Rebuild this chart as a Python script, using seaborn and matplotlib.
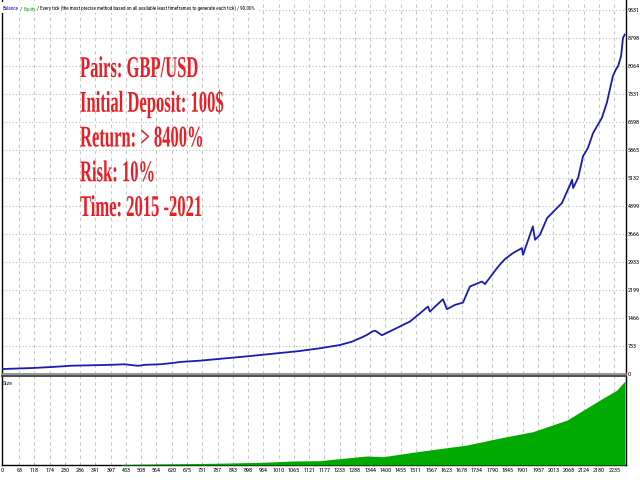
import matplotlib
matplotlib.use("Agg")
import numpy as np
import pandas as pd
import seaborn as sns
import matplotlib.pyplot as plt
import matplotlib.patheffects as pe
from matplotlib.transforms import Affine2D
from matplotlib.textpath import TextPath
from matplotlib.font_manager import FontProperties, fontManager
from matplotlib.patches import Rectangle

# ---------------- data ----------------
trade_no = [0, 113, 183, 256, 376, 449, 496, 522, 577, 624, 650, 723, 905, 1088,
            1161, 1234, 1278, 1314, 1332, 1351, 1362, 1387, 1489, 1519, 1555, 1562,
            1610, 1624, 1654, 1683, 1708, 1752, 1763, 1807, 1817, 1836, 1865, 1898,
            1902, 1938, 1946, 1964, 1990, 2026, 2044, 2074, 2081, 2085, 2103, 2121,
            2139, 2158, 2190, 2208, 2230, 2241, 2249, 2260, 2267, 2274]
balance = [130, 157, 184, 218, 236, 254, 215, 240, 254, 289, 315, 349, 470, 603,
           674, 760, 848, 960, 1023, 1110, 1136, 1015, 1372, 1548, 1766, 1634,
           1959, 1697, 1810, 1870, 2290, 2421, 2353, 2772, 2859, 3008, 3165, 3297,
           3121, 3864, 3515, 3646, 4084, 4346, 4477, 4957, 5089, 4870, 5133, 5700,
           5919, 6313, 6707, 7100, 7798, 7974, 8061, 8323, 8805, 8892]

size_trade_no = [0, 430, 438, 559, 778, 953, 1062, 1161, 1208, 1332, 1391, 1515,
                 1698, 1818, 1938, 2063, 2183, 2245, 2274]
size_lots = [0, 0, 0.05, 0.10, 0.17, 0.27, 0.40, 0.43, 0.57, 0.90, 0.83, 1.33,
             2.00, 2.70, 3.33, 4.50, 6.50, 7.50, 8.40]

x_tick_labels = [0, 63, 118, 174, 230, 286, 341, 397, 453, 508, 564, 620, 675, 731,
                 787, 843, 898, 954, 1010, 1065, 1121, 1177, 1233, 1288, 1344, 1400,
                 1455, 1511, 1567, 1623, 1678, 1734, 1790, 1845, 1901, 1957, 2013,
                 2068, 2124, 2180, 2235]
y_tick_labels = [0, 733, 1466, 2199, 2933, 3666, 4399, 5132, 5865, 6598, 7331,
                 8064, 8798, 9531]

info_lines = ["Pairs: GBP/USD", "Initial Deposit: 100$", "Return: > 8400%",
              "Risk: 10%", "Time: 2015 -2021"]
header_parts = [("Balance", "#1010c8"), (" / ", "#000000"), ("Equity", "#10b010"),
                (" / Every tick (the most precise method based on all available least "
                 "timeframes to generate each tick) / 90.00%", "#000000")]

# ---------------- style ----------------
sns.set_theme(style="white")
plt.rcParams["font.family"] = ["DejaVu Sans"]

W, H, DPI = 640, 480, 100

_names = {f.name for f in fontManager.ttflist}
SMALL_FAMILY = "DejaVu Sans"
for cand in ["Liberation Sans Narrow", "DejaVu Sans Condensed", "Roboto Condensed",
             "Open Sans Condensed", "Noto Sans Condensed"]:
    if cand in _names:
        SMALL_FAMILY = cand
        break


def width_px(s, family, size):
    fp = FontProperties(family=family, size=size)
    return TextPath((0, 0), s, prop=fp).get_extents().width * DPI / 72.0


# font sizes chosen so that text widths match the screenshot
TICK_FS = min(5.5, 5.0 * 11.5 / width_px("2235", SMALL_FAMILY, 5.0))
HDR_FS = min(5.5, 5.0 * 252.0 / width_px("".join(p for p, _ in header_parts),
                                          SMALL_FAMILY, 5.0))

SX = 0.55  # horizontal squeeze of the big red caption


class HScale(pe.AbstractPathEffect):
    """Draw text glyphs squeezed horizontally (text stays a Text artist)."""

    def __init__(self, sx):
        super().__init__()
        self.sx = sx

    def draw_path(self, renderer, gc, tpath, affine, rgbFace=None):
        renderer.draw_path(gc, tpath, Affine2D().scale(self.sx, 1) + affine, rgbFace)


fig = plt.figure(figsize=(W / DPI, H / DPI), dpi=DPI)
fig.patch.set_facecolor("white")

ax_top = fig.add_axes([2 / W, (H - 374) / H, 624 / W, 374 / H])
ax_bot = fig.add_axes([2 / W, (H - 465) / H, 624 / W, 89 / H], sharex=ax_top)

df = pd.DataFrame({"trade": trade_no, "balance": balance})
sns.lineplot(data=df, x="trade", y="balance", ax=ax_top, color="#1c1cb0",
             linewidth=1.3, zorder=3)

ax_bot.fill_between(size_trade_no, size_lots, 0, color="#00aa00", linewidth=0,
                    zorder=3)

ax_top.set_xlim(0, 2278)
ax_top.set_ylim(0, 9793)
ax_bot.set_ylim(0, 8.9)

for ax in (ax_top, ax_bot):
    ax.set_facecolor("white")
    ax.set_axisbelow(True)
    ax.set_xlabel("")
    ax.set_ylabel("")
    ax.grid(axis="x", color="#c8c8c8", linestyle=(0, (3, 3)), linewidth=0.8)
    for side in ("left", "right", "bottom", "top"):
        ax.spines[side].set_visible(True)
        ax.spines[side].set_color("black")
        ax.spines[side].set_linewidth(1.0)

ax_top.spines["top"].set_visible(False)
ax_top.spines["bottom"].set_color("#8c8c8c")
ax_top.spines["bottom"].set_linewidth(1.3)
ax_bot.spines["top"].set_color("#404040")
ax_bot.spines["top"].set_linewidth(1.3)

ax_top.set_yticks(y_tick_labels, labels=[str(v) for v in y_tick_labels])
ax_top.yaxis.tick_right()
ax_top.grid(axis="y", color="#bdbdbd", linestyle=(0, (1, 2)), linewidth=0.8)
ax_top.tick_params(axis="y", length=0, pad=1.0, labelsize=TICK_FS, colors="black",
                   right=True, left=False, labelright=True, labelleft=False)
ax_top.tick_params(axis="x", length=0, labelbottom=False)
for lbl in ax_top.get_yticklabels():
    lbl.set_family(SMALL_FAMILY)

ax_bot.set_xticks(x_tick_labels, labels=[str(v) for v in x_tick_labels])
ax_bot.set_yticks([])
ax_bot.tick_params(axis="x", length=0, pad=2.2, labelsize=TICK_FS, colors="black")
for lbl in ax_bot.get_xticklabels():
    lbl.set_family(SMALL_FAMILY)

# "Size" caption of the lower pane
fig.text(3 / W, 1 - 385 / H, "Size", fontsize=TICK_FS, family=SMALL_FAMILY,
         color="#202020", ha="left", va="baseline")

# header line with coloured words
hdr_fp = FontProperties(family=SMALL_FAMILY, size=HDR_FS)


def advance_px(s):
    a = TextPath((0, 0), s + "|", prop=hdr_fp).get_extents().x1
    b = TextPath((0, 0), "|", prop=hdr_fp).get_extents().x1
    return (a - b) * DPI / 72.0


x0 = 3.0
prefix = ""
for s, c in header_parts:
    xpos = x0 + (advance_px(prefix) if prefix else 0.0)
    fig.text(xpos / W, 1 - 10.5 / H, s, fontproperties=hdr_fp, color=c,
             ha="left", va="baseline", zorder=5)
    prefix += s
hdr_end = x0 + advance_px(prefix)
fig.patches.append(Rectangle((1 / W, 1 - 13 / H), (hdr_end + 2) / W, 11 / H,
                             transform=fig.transFigure, facecolor="white",
                             edgecolor="none", zorder=2))

# red info block
for i, line in enumerate(info_lines):
    fig.text(80 / W, 1 - (77 + i * 34.75) / H, line, fontsize=21.7,
             family="Liberation Serif", weight="bold", color="#ea1c24",
             ha="left", va="baseline", path_effects=[HScale(SX)], zorder=6)

fig.savefig("out.png", dpi=DPI, facecolor="white")
